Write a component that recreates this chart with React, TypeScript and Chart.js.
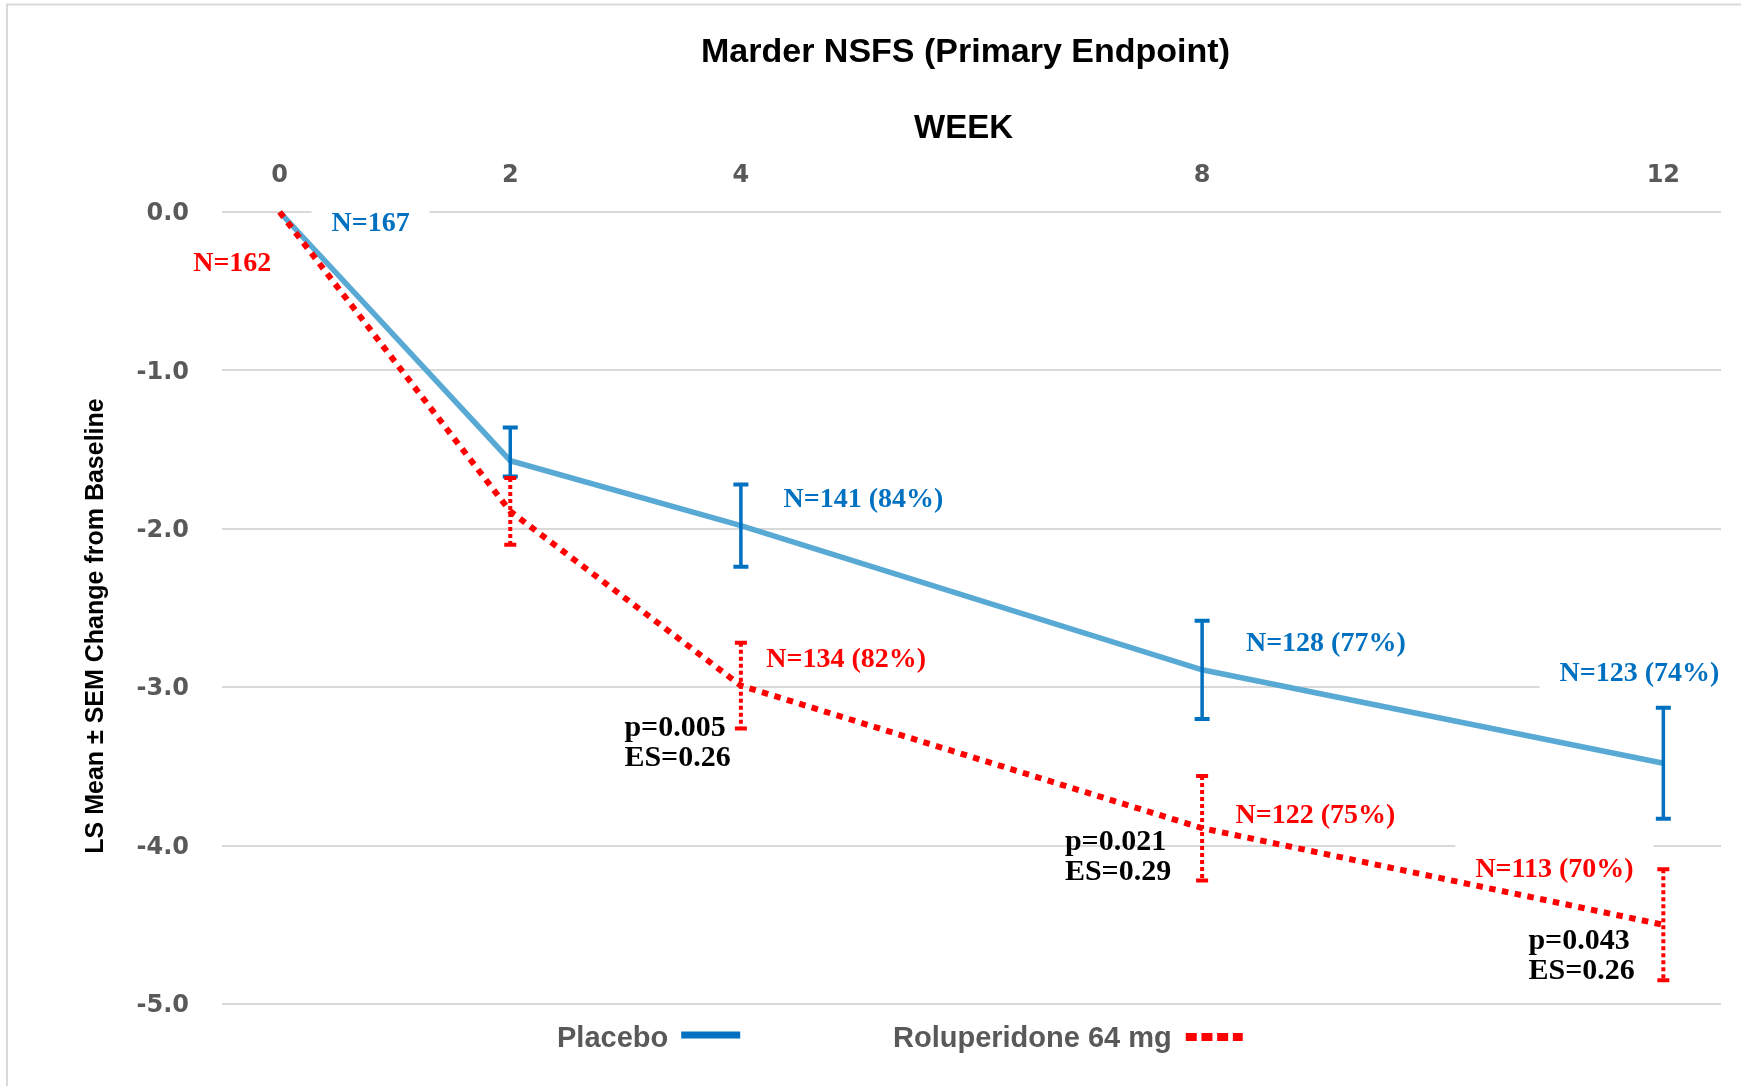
import React, { useEffect, useRef } from "react";
import { Chart, registerables } from "chart.js";

Chart.register(...registerables);

// ---- data ----
const weeks = [0, 2, 4, 8, 12];
const placeboMean = [0, -1.57, -1.98, -2.89, -3.48];
const placeboSemUp = [0, 0.21, 0.26, 0.31, 0.35];
const placeboSemDown = [0, 0.1, 0.26, 0.31, 0.35];
const roluMean = [0, -1.89, -2.99, -3.89, -4.5];
const roluSemUp = [0, 0.21, 0.27, 0.33, 0.35];
const roluSemDown = [0, 0.21, 0.27, 0.33, 0.35];
const yTickValues = [0, -1, -2, -3, -4, -5];

const seriesNames = ["Placebo", "Roluperidone 64 mg"];
const chartTitle = "Marder NSFS (Primary Endpoint)";
const xTitle = "WEEK";
const yTitle = "LS Mean ± SEM Change from Baseline";

// annotation labels: text, anchor week, anchor value (baseline), colour key
const labelTexts = [
  "N=167", "N=162", "N=141 (84%)", "N=134 (82%)", "p=0.005", "ES=0.26",
  "N=128 (77%)", "N=123 (74%)", "N=122 (75%)", "p=0.021", "ES=0.29",
  "N=113 (70%)", "p=0.043", "ES=0.26",
];
const labelWeeks = [0.45, -0.75, 4.37, 4.22, 2.99, 2.99, 8.38, 11.1, 8.29, 6.81, 6.81, 10.37, 10.83, 10.83];
const labelValues = [-0.12, -0.37, -1.86, -2.87, -3.31, -3.5, -2.77, -2.96, -3.86, -4.03, -4.22, -4.2, -4.65, -4.84];
const labelKinds = ["b", "r", "b", "r", "k", "k", "b", "b", "r", "k", "k", "r", "k", "k"];

const BLUE_LINE = "#58a9d4";
const BLUE_DARK = "#0070c0";
const RED = "#ff0000";
const GRAY_TEXT = "#595959";
const GRID = "#d9d9d9";

const SERIF_COLOR_FONT = "bold 28px 'Liberation Serif', 'Times New Roman', serif";
const SERIF_BLACK_FONT = "bold 30px 'Liberation Serif', 'Times New Roman', serif";

const annotationPlugin = {
  id: "annotations",
  beforeDraw(chart: any) {
    const ctx = chart.ctx;
    ctx.save();
    ctx.fillStyle = "#ffffff";
    ctx.fillRect(0, 0, chart.width, chart.height);
    ctx.strokeStyle = GRID;
    ctx.lineWidth = 2;
    ctx.beginPath();
    ctx.moveTo(7, chart.height);
    ctx.lineTo(7, 4.5);
    ctx.lineTo(chart.width, 4.5);
    ctx.stroke();
    ctx.restore();
  },
  beforeDatasetsDraw(chart: any) {
    const ctx = chart.ctx;
    const xs = chart.scales.x;
    const ys = chart.scales.y;
    ctx.save();
    labelTexts.forEach((t, i) => {
      const kind = labelKinds[i];
      if (kind === "k") return;
      const x = xs.getPixelForValue(labelWeeks[i]);
      const y = ys.getPixelForValue(labelValues[i]);
      ctx.font = SERIF_COLOR_FONT;
      const w = ctx.measureText(t).width;
      ctx.fillStyle = "#ffffff";
      ctx.fillRect(x - 20, y - 9 - 25, w + 40, 50);
    });
    ctx.restore();
  },
  afterDatasetsDraw(chart: any) {
    const ctx = chart.ctx;
    const xs = chart.scales.x;
    const ys = chart.scales.y;
    ctx.save();
    const drawBars = (means: number[], up: number[], down: number[], color: string, dotted: boolean, capW: number) => {
      means.forEach((m, i) => {
        if (!up[i] && !down[i]) return;
        const x = xs.getPixelForValue(weeks[i]);
        const yt = ys.getPixelForValue(m + up[i]);
        const yb = ys.getPixelForValue(m - down[i]);
        ctx.strokeStyle = color;
        ctx.lineWidth = dotted ? 4 : 3.5;
        ctx.setLineDash(dotted ? [4, 3] : []);
        ctx.beginPath();
        ctx.moveTo(x, yt);
        ctx.lineTo(x, yb);
        ctx.stroke();
        ctx.setLineDash([]);
        ctx.lineWidth = 4;
        ctx.beginPath();
        ctx.moveTo(x - capW / 2, yt);
        ctx.lineTo(x + capW / 2, yt);
        ctx.moveTo(x - capW / 2, yb);
        ctx.lineTo(x + capW / 2, yb);
        ctx.stroke();
      });
    };
    drawBars(placeboMean, placeboSemUp, placeboSemDown, BLUE_DARK, false, 15);
    drawBars(roluMean, roluSemUp, roluSemDown, RED, true, 12);

    ctx.textAlign = "left";
    ctx.textBaseline = "alphabetic";
    labelTexts.forEach((t, i) => {
      const kind = labelKinds[i];
      const x = xs.getPixelForValue(labelWeeks[i]);
      const y = ys.getPixelForValue(labelValues[i]);
      ctx.font = kind === "k" ? SERIF_BLACK_FONT : SERIF_COLOR_FONT;
      ctx.fillStyle = kind === "b" ? BLUE_DARK : kind === "r" ? RED : "#000000";
      ctx.fillText(t, x, y);
    });
    ctx.restore();
  },
  afterDraw(chart: any) {
    const ctx = chart.ctx;
    const area = chart.chartArea;
    const cx = (area.left + area.right) / 2 - 6;
    ctx.save();
    ctx.fillStyle = "#000000";
    ctx.textAlign = "center";
    ctx.textBaseline = "alphabetic";
    ctx.font = "bold 34px 'Liberation Sans', Arial, sans-serif";
    ctx.fillText(chartTitle, cx, 62);
    ctx.font = "bold 33px 'Liberation Sans', Arial, sans-serif";
    ctx.fillText(xTitle, cx - 2, 138);

    ctx.save();
    ctx.translate(103, (area.top + area.bottom) / 2 + 18);
    ctx.rotate(-Math.PI / 2);
    ctx.font = "bold 25px 'Liberation Sans', Arial, sans-serif";
    ctx.fillText(yTitle, 0, 0);
    ctx.restore();

    // legend
    ctx.textAlign = "left";
    ctx.fillStyle = GRAY_TEXT;
    ctx.font = "bold 29px 'Liberation Sans', Arial, sans-serif";
    const ly = 1047;
    ctx.fillText(seriesNames[0], 557, ly);
    const w0 = ctx.measureText(seriesNames[0]).width;
    ctx.strokeStyle = BLUE_DARK;
    ctx.lineWidth = 7;
    ctx.beginPath();
    ctx.moveTo(557 + w0 + 13, 1035);
    ctx.lineTo(557 + w0 + 72, 1035);
    ctx.stroke();

    ctx.fillText(seriesNames[1], 893, ly);
    const w1 = ctx.measureText(seriesNames[1]).width;
    ctx.strokeStyle = RED;
    ctx.lineWidth = 8;
    ctx.setLineDash([11, 4.7]);
    ctx.beginPath();
    ctx.moveTo(893 + w1 + 14, 1037);
    ctx.lineTo(893 + w1 + 71, 1037);
    ctx.stroke();
    ctx.restore();
  },
};

export default function App() {
  const ref = useRef<HTMLCanvasElement | null>(null);
  useEffect(() => {
    if (!ref.current) return;
    const chart = new Chart(ref.current, {
      type: "line",
      data: {
        datasets: [
          {
            label: seriesNames[1],
            data: weeks.map((w, i) => ({ x: w, y: roluMean[i] })),
            borderColor: RED,
            borderWidth: 6,
            borderDash: [6.5, 6.5],
            borderCapStyle: "butt",
            pointRadius: 0,
            fill: false,
            tension: 0,
            order: 0,
            clip: false,
          } as any,
          {
            label: seriesNames[0],
            data: weeks.map((w, i) => ({ x: w, y: placeboMean[i] })),
            borderColor: BLUE_LINE,
            borderWidth: 5.5,
            pointRadius: 0,
            fill: false,
            tension: 0,
            order: 1,
            clip: false,
          } as any,
        ],
      },
      options: {
        animation: false,
        responsive: false,
        devicePixelRatio: 1,
        layout: { padding: { left: 0, top: 0, right: 20, bottom: 82 } },
        plugins: {
          legend: { display: false },
          title: { display: false },
          tooltip: { enabled: false },
        },
        scales: {
          x: {
            type: "linear",
            position: "top",
            min: -0.5,
            max: 12.5,
            grid: { display: false, drawTicks: false },
            border: { display: false },
            afterBuildTicks: (scale: any) => {
              scale.ticks = weeks.map((v) => ({ value: v }));
            },
            afterFit: (scale: any) => {
              scale.height = 212;
            },
            ticks: {
              padding: 24,
              color: GRAY_TEXT,
              font: { family: "'DejaVu Sans', sans-serif", size: 24, weight: "bold", lineHeight: 1 },
              callback: (v: any) => String(v),
              maxRotation: 0,
              autoSkip: false,
            },
          },
          y: {
            type: "linear",
            position: "left",
            min: -5,
            max: 0,
            grid: { color: GRID, lineWidth: 2, drawTicks: false },
            border: { display: false },
            afterBuildTicks: (scale: any) => {
              scale.ticks = yTickValues.map((v) => ({ value: v }));
            },
            afterFit: (scale: any) => {
              scale.width = 222;
            },
            ticks: {
              padding: 33,
              labelOffset: 2,
              color: GRAY_TEXT,
              font: { family: "'DejaVu Sans', sans-serif", size: 24, weight: "bold", lineHeight: 1 },
              callback: (v: any) => Number(v).toFixed(1),
            },
          },
        },
      } as any,
      plugins: [annotationPlugin],
    });
    return () => chart.destroy();
  }, []);
  return (
    <div style={{ position: "absolute", left: 0, top: 0, width: 1741, height: 1086, background: "#fff" }}>
      <canvas ref={ref} width={1741} height={1086} style={{ display: "block" }} />
    </div>
  );
}
